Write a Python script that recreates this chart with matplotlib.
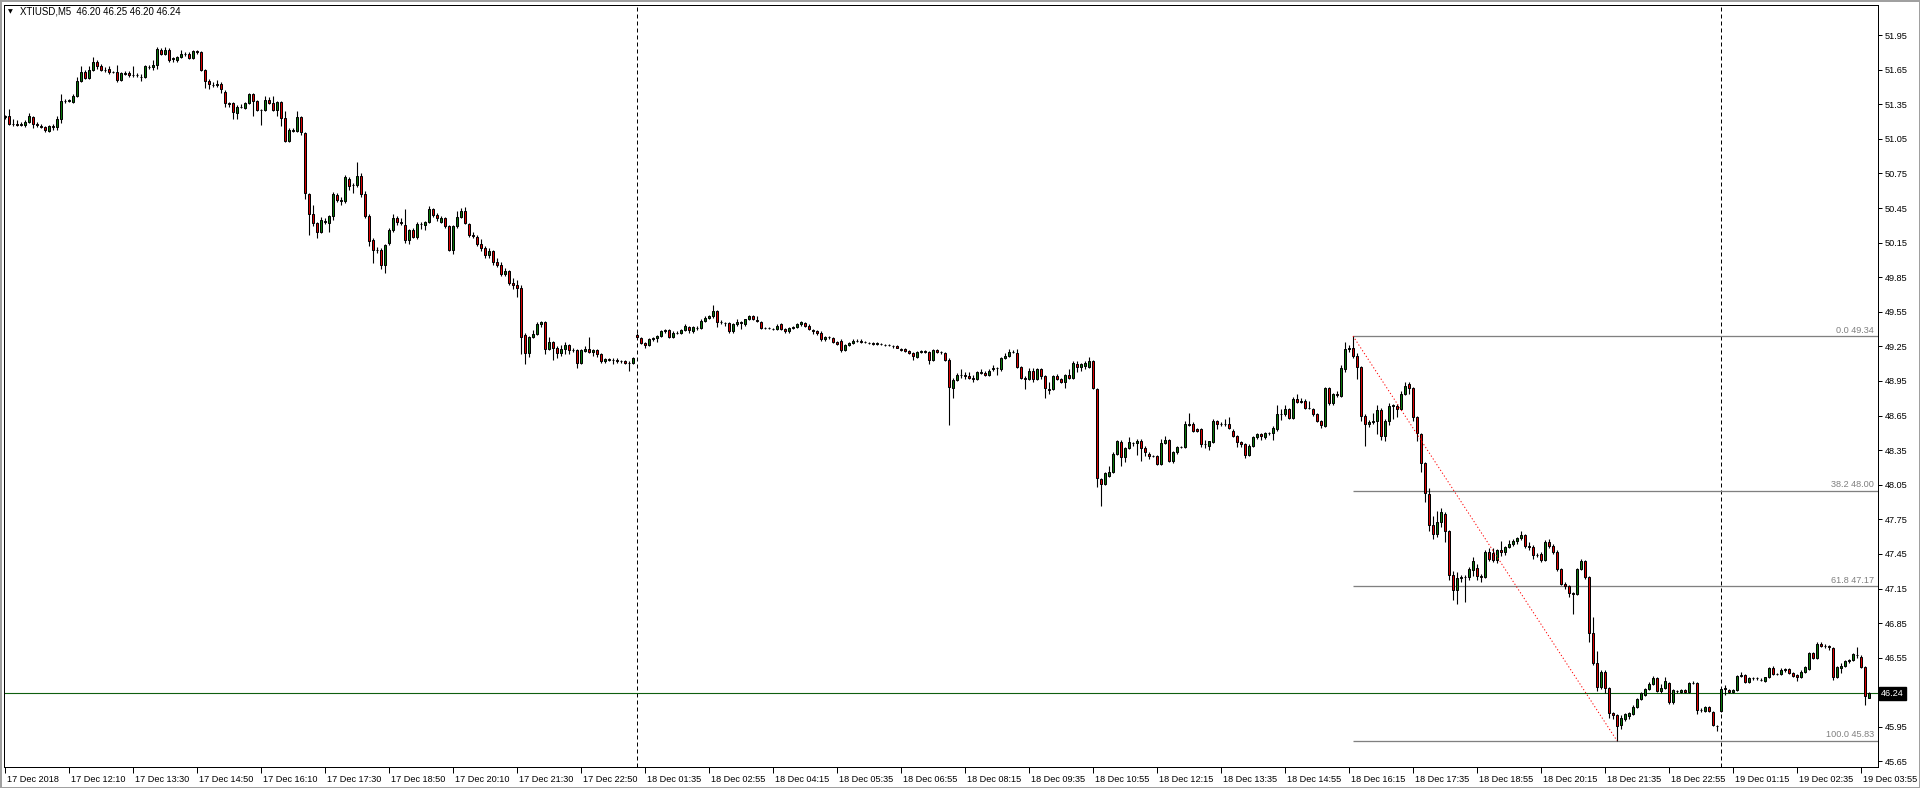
import matplotlib
matplotlib.use("Agg")
import matplotlib.pyplot as plt
import matplotlib.transforms as mtransforms
from matplotlib.patches import Rectangle
import numpy as np

plt.rcParams["font.family"] = ["Liberation Sans", "DejaVu Sans"]

# XTIUSD M5 bars (one value per bar)
opens = [
    51.24, 51.25, 51.18, 51.18, 51.17, 51.17, 51.20, 51.24, 51.18, 51.16,
    51.15, 51.12, 51.16, 51.15, 51.22, 51.38, 51.38, 51.37, 51.42, 51.55,
    51.63, 51.58, 51.65, 51.72, 51.68, 51.65, 51.66, 51.63, 51.63, 51.56,
    51.61, 51.62, 51.60, 51.60, 51.59, 51.59, 51.67, 51.67, 51.69, 51.82,
    51.79, 51.82, 51.74, 51.73, 51.76, 51.79, 51.79, 51.75, 51.81, 51.80,
    51.65, 51.55, 51.52, 51.52, 51.53, 51.46, 51.36, 51.36, 51.27, 51.33,
    51.32, 51.36, 51.44, 51.38, 51.30, 51.30, 51.39, 51.36, 51.30, 51.37,
    51.23, 51.03, 51.13, 51.12, 51.24, 51.10, 50.57, 50.40, 50.32, 50.24,
    50.34, 50.32, 50.38, 50.56, 50.51, 50.51, 50.70, 50.65, 50.65, 50.73,
    50.57, 50.38, 50.17, 50.09, 50.09, 49.96, 50.15, 50.26, 50.36, 50.33,
    50.30, 50.17, 50.26, 50.20, 50.31, 50.30, 50.33, 50.44, 50.39, 50.33,
    50.36, 50.29, 50.09, 50.29, 50.37, 50.42, 50.31, 50.22, 50.20, 50.14,
    50.10, 50.04, 50.08, 49.98, 49.96, 49.88, 49.90, 49.80, 49.78, 49.76,
    49.35, 49.19, 49.33, 49.36, 49.44, 49.46, 49.23, 49.29, 49.24, 49.19,
    49.23, 49.26, 49.22, 49.22, 49.11, 49.21, 49.23, 49.20, 49.22, 49.18,
    49.12, 49.14, 49.13, 49.13, 49.12, 49.12, 49.11, 49.11, 49.35, 49.32,
    49.28, 49.26, 49.31, 49.32, 49.34, 49.38, 49.39, 49.33, 49.37, 49.37,
    49.39, 49.42, 49.38, 49.41, 49.41, 49.47, 49.50, 49.51, 49.56, 49.46,
    49.45, 49.45, 49.38, 49.44, 49.46, 49.44, 49.49, 49.51, 49.48, 49.46,
    49.41, 49.41, 49.40, 49.40, 49.44, 49.40, 49.38, 49.41, 49.42, 49.44,
    49.45, 49.43, 49.39, 49.38, 49.37, 49.31, 49.33, 49.32, 49.29, 49.30,
    49.22, 49.26, 49.28, 49.30, 49.30, 49.29, 49.28, 49.28, 49.27, 49.27,
    49.26, 49.26, 49.25, 49.25, 49.23, 49.23, 49.21, 49.19, 49.16, 49.20,
    49.21, 49.20, 49.13, 49.22, 49.20, 49.19, 49.13, 48.89, 48.96, 49.00,
    49.00, 48.99, 48.98, 48.97, 49.03, 49.02, 49.00, 49.05, 49.06, 49.05,
    49.15, 49.17, 49.20, 49.19, 49.07, 48.98, 48.97, 49.04, 48.97, 49.05,
    48.99, 48.88, 48.88, 48.99, 48.97, 48.94, 49.00, 48.98, 49.10, 49.07,
    49.08, 49.07, 49.12, 48.88, 48.10, 48.06, 48.13, 48.16, 48.32, 48.42,
    48.29, 48.37, 48.41, 48.41, 48.43, 48.37, 48.32, 48.30, 48.30, 48.23,
    48.41, 48.44, 48.26, 48.33, 48.38, 48.38, 48.58, 48.58, 48.53, 48.53,
    48.40, 48.39, 48.42, 48.60, 48.58, 48.58, 48.58, 48.52, 48.47, 48.42,
    48.40, 48.31, 48.39, 48.46, 48.49, 48.46, 48.50, 48.50, 48.53, 48.66,
    48.66, 48.71, 48.63, 48.79, 48.78, 48.78, 48.72, 48.71, 48.66, 48.60,
    48.56, 48.89, 48.76, 48.84, 48.82, 49.05, 49.23, 49.24, 49.17, 49.07,
    48.65, 48.58, 48.59, 48.60, 48.70, 48.47, 48.60, 48.73, 48.73, 48.71,
    48.84, 48.92, 48.89, 48.64, 48.49, 48.24, 47.97, 47.70, 47.62, 47.73,
    47.80, 47.65, 47.27, 47.14, 47.24, 47.25, 47.25, 47.31, 47.33, 47.26,
    47.25, 47.47, 47.46, 47.40, 47.48, 47.47, 47.51, 47.54, 47.56, 47.59,
    47.61, 47.52, 47.51, 47.44, 47.45, 47.40, 47.55, 47.52, 47.47, 47.32,
    47.19, 47.17, 47.11, 47.10, 47.32, 47.39, 47.25, 46.76, 46.50, 46.30,
    46.43, 46.29, 46.07, 46.05, 45.97, 46.02, 46.04, 46.06, 46.12, 46.19,
    46.23, 46.28, 46.32, 46.37, 46.26, 46.29, 46.33, 46.17, 46.26, 46.25,
    46.27, 46.25, 46.33, 46.33, 46.10, 46.09, 46.12, 46.08, 45.96, 46.09,
    46.28, 46.27, 46.25, 46.27, 46.39, 46.40, 46.34, 46.37, 46.37, 46.36,
    46.35, 46.38, 46.46, 46.41, 46.41, 46.44, 46.45, 46.42, 46.40, 46.38,
    46.43, 46.45, 46.59, 46.55, 46.67, 46.65, 46.65, 46.63, 46.38, 46.46,
    46.48, 46.52, 46.53, 46.57, 46.56, 46.47, 46.20,
]
highs = [
    51.26, 51.31, 51.22, 51.21, 51.20, 51.21, 51.27, 51.25, 51.20, 51.18,
    51.16, 51.17, 51.18, 51.25, 51.44, 51.40, 51.40, 51.44, 51.59, 51.68,
    51.65, 51.68, 51.76, 51.73, 51.70, 51.67, 51.68, 51.64, 51.69, 51.63,
    51.64, 51.64, 51.68, 51.62, 51.61, 51.69, 51.69, 51.73, 51.85, 51.84,
    51.85, 51.84, 51.76, 51.77, 51.82, 51.80, 51.80, 51.82, 51.82, 51.81,
    51.66, 51.57, 51.54, 51.56, 51.54, 51.47, 51.37, 51.37, 51.34, 51.35,
    51.37, 51.45, 51.45, 51.39, 51.31, 51.42, 51.41, 51.42, 51.38, 51.38,
    51.29, 51.14, 51.14, 51.29, 51.25, 51.11, 50.58, 50.48, 50.33, 50.37,
    50.36, 50.39, 50.59, 50.58, 50.55, 50.74, 50.72, 50.67, 50.85, 50.75,
    50.60, 50.40, 50.19, 50.11, 50.10, 50.14, 50.28, 50.40, 50.38, 50.36,
    50.44, 50.27, 50.28, 50.33, 50.33, 50.34, 50.47, 50.45, 50.41, 50.38,
    50.37, 50.30, 50.30, 50.42, 50.45, 50.46, 50.32, 50.24, 50.22, 50.18,
    50.12, 50.10, 50.09, 50.02, 49.98, 49.93, 49.91, 49.84, 49.83, 49.78,
    49.37, 49.34, 49.39, 49.46, 49.47, 49.47, 49.33, 49.30, 49.25, 49.26,
    49.29, 49.27, 49.24, 49.23, 49.23, 49.25, 49.33, 49.23, 49.23, 49.19,
    49.15, 49.15, 49.15, 49.15, 49.13, 49.13, 49.12, 49.16, 49.37, 49.33,
    49.29, 49.32, 49.33, 49.35, 49.39, 49.40, 49.40, 49.38, 49.38, 49.40,
    49.44, 49.43, 49.43, 49.43, 49.49, 49.51, 49.52, 49.61, 49.57, 49.48,
    49.46, 49.46, 49.45, 49.49, 49.47, 49.49, 49.52, 49.52, 49.51, 49.47,
    49.42, 49.42, 49.41, 49.44, 49.45, 49.41, 49.42, 49.43, 49.45, 49.47,
    49.46, 49.44, 49.40, 49.39, 49.38, 49.34, 49.34, 49.33, 49.30, 49.31,
    49.27, 49.29, 49.31, 49.31, 49.31, 49.30, 49.29, 49.29, 49.29, 49.28,
    49.27, 49.27, 49.26, 49.26, 49.24, 49.24, 49.22, 49.20, 49.21, 49.22,
    49.22, 49.21, 49.23, 49.23, 49.21, 49.20, 49.15, 48.98, 49.02, 49.05,
    49.03, 49.03, 49.00, 49.04, 49.05, 49.04, 49.05, 49.09, 49.07, 49.16,
    49.19, 49.23, 49.22, 49.23, 49.08, 48.99, 49.06, 49.06, 49.06, 49.06,
    49.00, 48.94, 49.00, 49.01, 48.98, 49.01, 49.05, 49.12, 49.12, 49.11,
    49.12, 49.16, 49.13, 48.89, 48.11, 48.16, 48.21, 48.33, 48.44, 48.44,
    48.38, 48.46, 48.42, 48.45, 48.45, 48.39, 48.33, 48.31, 48.31, 48.45,
    48.47, 48.45, 48.34, 48.39, 48.39, 48.60, 48.67, 48.59, 48.54, 48.54,
    48.44, 48.43, 48.62, 48.61, 48.59, 48.62, 48.64, 48.53, 48.48, 48.43,
    48.41, 48.40, 48.47, 48.50, 48.50, 48.51, 48.51, 48.56, 48.74, 48.71,
    48.74, 48.72, 48.81, 48.84, 48.80, 48.79, 48.78, 48.72, 48.67, 48.61,
    48.90, 48.90, 48.85, 48.86, 49.09, 49.29, 49.26, 49.34, 49.19, 49.08,
    48.66, 48.61, 48.67, 48.74, 48.72, 48.62, 48.76, 48.75, 48.75, 48.86,
    48.94, 48.94, 48.90, 48.65, 48.50, 48.25, 48.02, 47.78, 47.82, 47.85,
    47.81, 47.66, 47.30, 47.29, 47.27, 47.27, 47.34, 47.42, 47.36, 47.28,
    47.48, 47.50, 47.50, 47.49, 47.56, 47.52, 47.57, 47.58, 47.60, 47.65,
    47.62, 47.55, 47.53, 47.46, 47.47, 47.57, 47.58, 47.54, 47.48, 47.33,
    47.21, 47.18, 47.12, 47.33, 47.41, 47.40, 47.26, 46.90, 46.61, 46.44,
    46.44, 46.30, 46.08, 46.06, 46.05, 46.07, 46.08, 46.14, 46.20, 46.25,
    46.29, 46.34, 46.39, 46.38, 46.32, 46.38, 46.34, 46.28, 46.27, 46.28,
    46.28, 46.34, 46.35, 46.34, 46.11, 46.13, 46.13, 46.09, 45.97, 46.29,
    46.31, 46.28, 46.28, 46.40, 46.43, 46.41, 46.38, 46.38, 46.38, 46.37,
    46.38, 46.47, 46.48, 46.42, 46.46, 46.46, 46.46, 46.43, 46.41, 46.44,
    46.48, 46.60, 46.60, 46.69, 46.69, 46.67, 46.66, 46.64, 46.48, 46.50,
    46.53, 46.54, 46.59, 46.64, 46.57, 46.48, 46.25,
]
lows = [
    51.22, 51.17, 51.16, 51.16, 51.16, 51.15, 51.19, 51.14, 51.15, 51.14,
    51.11, 51.11, 51.13, 51.13, 51.19, 51.36, 51.37, 51.36, 51.41, 51.54,
    51.57, 51.57, 51.64, 51.66, 51.64, 51.63, 51.61, 51.62, 51.54, 51.55,
    51.60, 51.59, 51.59, 51.59, 51.55, 51.58, 51.66, 51.65, 51.66, 51.78,
    51.78, 51.72, 51.72, 51.72, 51.75, 51.77, 51.74, 51.74, 51.79, 51.64,
    51.49, 51.48, 51.50, 51.50, 51.45, 51.33, 51.33, 51.22, 51.22, 51.32,
    51.31, 51.35, 51.25, 51.29, 51.17, 51.29, 51.35, 51.29, 51.25, 51.16,
    51.02, 51.02, 51.11, 51.11, 51.08, 50.53, 50.22, 50.29, 50.19, 50.23,
    50.31, 50.24, 50.35, 50.50, 50.48, 50.49, 50.61, 50.58, 50.63, 50.55,
    50.36, 50.12, 49.97, 50.06, 49.92, 49.89, 50.13, 50.24, 50.30, 50.30,
    50.15, 50.14, 50.19, 50.18, 50.27, 50.26, 50.32, 50.37, 50.34, 50.32,
    50.28, 50.08, 50.05, 50.28, 50.36, 50.31, 50.20, 50.19, 50.12, 50.08,
    50.02, 50.02, 49.96, 49.94, 49.86, 49.86, 49.78, 49.75, 49.68, 49.18,
    49.10, 49.16, 49.32, 49.35, 49.42, 49.18, 49.22, 49.13, 49.15, 49.17,
    49.18, 49.18, 49.20, 49.06, 49.10, 49.20, 49.19, 49.17, 49.16, 49.11,
    49.11, 49.12, 49.10, 49.11, 49.11, 49.10, 49.04, 49.10, 49.32, 49.27,
    49.24, 49.25, 49.30, 49.29, 49.33, 49.37, 49.32, 49.32, 49.36, 49.36,
    49.38, 49.37, 49.37, 49.39, 49.40, 49.46, 49.49, 49.50, 49.42, 49.44,
    49.43, 49.37, 49.37, 49.43, 49.40, 49.43, 49.48, 49.48, 49.46, 49.40,
    49.40, 49.40, 49.39, 49.39, 49.39, 49.37, 49.37, 49.40, 49.41, 49.43,
    49.42, 49.39, 49.36, 49.35, 49.30, 49.30, 49.31, 49.28, 49.26, 49.20,
    49.21, 49.25, 49.27, 49.29, 49.28, 49.28, 49.27, 49.26, 49.26, 49.26,
    49.25, 49.25, 49.24, 49.24, 49.21, 49.20, 49.18, 49.13, 49.15, 49.19,
    49.19, 49.10, 49.12, 49.19, 49.18, 49.12, 48.57, 48.80, 48.95, 48.98,
    48.97, 48.97, 48.94, 48.96, 49.01, 48.99, 48.99, 49.04, 49.00, 49.04,
    49.14, 49.16, 49.19, 49.06, 48.97, 48.88, 48.96, 48.94, 48.96, 48.97,
    48.80, 48.84, 48.87, 48.96, 48.93, 48.89, 48.97, 48.97, 49.03, 49.04,
    49.05, 49.06, 48.88, 48.03, 47.87, 48.05, 48.12, 48.15, 48.31, 48.21,
    48.25, 48.36, 48.39, 48.31, 48.26, 48.30, 48.27, 48.29, 48.22, 48.22,
    48.40, 48.25, 48.24, 48.32, 48.37, 48.37, 48.56, 48.51, 48.51, 48.38,
    48.37, 48.35, 48.41, 48.53, 48.56, 48.56, 48.53, 48.46, 48.38, 48.38,
    48.28, 48.30, 48.38, 48.45, 48.44, 48.45, 48.48, 48.44, 48.52, 48.61,
    48.65, 48.62, 48.62, 48.76, 48.76, 48.71, 48.71, 48.65, 48.59, 48.54,
    48.55, 48.74, 48.74, 48.81, 48.81, 49.03, 49.20, 49.15, 48.97, 48.60,
    48.39, 48.55, 48.58, 48.49, 48.44, 48.43, 48.57, 48.62, 48.64, 48.70,
    48.83, 48.84, 48.60, 48.43, 48.16, 47.90, 47.65, 47.58, 47.60, 47.68,
    47.55, 47.22, 47.05, 47.02, 47.21, 47.03, 47.22, 47.26, 47.22, 47.21,
    47.24, 47.39, 47.38, 47.37, 47.43, 47.44, 47.50, 47.52, 47.54, 47.57,
    47.50, 47.48, 47.41, 47.42, 47.38, 47.39, 47.50, 47.45, 47.30, 47.18,
    47.15, 47.08, 46.93, 47.09, 47.31, 47.23, 46.69, 46.49, 46.26, 46.28,
    46.24, 46.03, 46.02, 45.83, 45.93, 46.00, 46.02, 46.05, 46.11, 46.18,
    46.22, 46.27, 46.31, 46.25, 46.24, 46.28, 46.15, 46.15, 46.24, 46.24,
    46.24, 46.24, 46.32, 46.06, 46.08, 46.08, 46.08, 45.96, 45.91, 46.08,
    46.23, 46.24, 46.24, 46.26, 46.38, 46.33, 46.33, 46.36, 46.36, 46.35,
    46.34, 46.37, 46.40, 46.40, 46.40, 46.43, 46.41, 46.38, 46.35, 46.37,
    46.42, 46.44, 46.54, 46.54, 46.64, 46.63, 46.62, 46.36, 46.37, 46.42,
    46.47, 46.50, 46.52, 46.55, 46.46, 46.14, 46.20,
]
closes = [
    51.25, 51.18, 51.18, 51.17, 51.18, 51.20, 51.25, 51.18, 51.17, 51.15,
    51.13, 51.16, 51.15, 51.22, 51.38, 51.38, 51.39, 51.42, 51.55, 51.63,
    51.58, 51.65, 51.72, 51.68, 51.65, 51.65, 51.63, 51.63, 51.56, 51.62,
    51.62, 51.60, 51.60, 51.60, 51.59, 51.68, 51.67, 51.69, 51.83, 51.79,
    51.82, 51.73, 51.75, 51.76, 51.79, 51.79, 51.75, 51.81, 51.80, 51.65,
    51.55, 51.53, 51.52, 51.53, 51.48, 51.36, 51.35, 51.28, 51.33, 51.33,
    51.36, 51.44, 51.38, 51.30, 51.30, 51.39, 51.36, 51.30, 51.37, 51.23,
    51.03, 51.13, 51.12, 51.24, 51.11, 50.58, 50.40, 50.32, 50.24, 50.35,
    50.33, 50.38, 50.57, 50.52, 50.52, 50.72, 50.64, 50.65, 50.73, 50.57,
    50.38, 50.16, 50.09, 50.09, 49.96, 50.13, 50.26, 50.36, 50.33, 50.32,
    50.17, 50.26, 50.20, 50.31, 50.31, 50.33, 50.44, 50.39, 50.36, 50.36,
    50.29, 50.09, 50.29, 50.37, 50.42, 50.32, 50.22, 50.21, 50.14, 50.10,
    50.04, 50.08, 49.98, 49.96, 49.88, 49.90, 49.80, 49.78, 49.76, 49.33,
    49.19, 49.33, 49.36, 49.44, 49.46, 49.23, 49.29, 49.24, 49.19, 49.23,
    49.26, 49.22, 49.22, 49.11, 49.22, 49.23, 49.20, 49.22, 49.18, 49.12,
    49.14, 49.13, 49.13, 49.12, 49.12, 49.11, 49.11, 49.15, 49.33, 49.28,
    49.26, 49.31, 49.32, 49.34, 49.38, 49.39, 49.33, 49.37, 49.37, 49.39,
    49.43, 49.39, 49.42, 49.41, 49.47, 49.50, 49.51, 49.56, 49.46, 49.46,
    49.45, 49.38, 49.44, 49.46, 49.45, 49.49, 49.51, 49.49, 49.47, 49.41,
    49.41, 49.41, 49.40, 49.43, 49.40, 49.38, 49.41, 49.42, 49.44, 49.46,
    49.43, 49.40, 49.38, 49.37, 49.31, 49.33, 49.33, 49.29, 49.27, 49.22,
    49.26, 49.28, 49.30, 49.30, 49.29, 49.29, 49.28, 49.27, 49.28, 49.27,
    49.26, 49.26, 49.25, 49.24, 49.22, 49.21, 49.19, 49.17, 49.20, 49.21,
    49.20, 49.13, 49.22, 49.20, 49.20, 49.13, 48.90, 48.96, 49.00, 49.00,
    48.99, 48.98, 48.97, 49.03, 49.02, 49.00, 49.04, 49.06, 49.06, 49.15,
    49.17, 49.20, 49.20, 49.07, 48.98, 48.97, 49.04, 48.97, 49.05, 48.99,
    48.89, 48.87, 48.99, 48.97, 48.94, 49.00, 48.98, 49.11, 49.07, 49.10,
    49.11, 49.12, 48.89, 48.11, 48.06, 48.15, 48.16, 48.32, 48.43, 48.29,
    48.37, 48.42, 48.41, 48.43, 48.37, 48.33, 48.30, 48.30, 48.23, 48.41,
    48.44, 48.26, 48.33, 48.38, 48.38, 48.58, 48.57, 48.52, 48.52, 48.40,
    48.40, 48.43, 48.60, 48.58, 48.58, 48.58, 48.54, 48.47, 48.42, 48.40,
    48.31, 48.39, 48.46, 48.49, 48.47, 48.50, 48.50, 48.54, 48.66, 48.66,
    48.71, 48.63, 48.79, 48.77, 48.77, 48.72, 48.72, 48.66, 48.60, 48.57,
    48.89, 48.76, 48.84, 48.83, 49.06, 49.23, 49.24, 49.17, 49.07, 48.65,
    48.58, 48.59, 48.60, 48.70, 48.47, 48.60, 48.73, 48.74, 48.71, 48.84,
    48.91, 48.89, 48.64, 48.50, 48.24, 47.98, 47.70, 47.62, 47.73, 47.81,
    47.65, 47.27, 47.14, 47.24, 47.25, 47.25, 47.32, 47.39, 47.26, 47.25,
    47.47, 47.41, 47.40, 47.48, 47.47, 47.51, 47.54, 47.56, 47.59, 47.61,
    47.52, 47.51, 47.44, 47.44, 47.40, 47.55, 47.52, 47.47, 47.32, 47.19,
    47.17, 47.11, 47.10, 47.32, 47.39, 47.25, 46.76, 46.50, 46.30, 46.43,
    46.29, 46.07, 46.05, 45.96, 46.03, 46.06, 46.07, 46.12, 46.19, 46.24,
    46.28, 46.32, 46.37, 46.26, 46.29, 46.35, 46.17, 46.27, 46.26, 46.27,
    46.25, 46.33, 46.33, 46.10, 46.10, 46.12, 46.09, 45.97, 45.96, 46.28,
    46.29, 46.25, 46.27, 46.39, 46.40, 46.34, 46.37, 46.37, 46.37, 46.36,
    46.38, 46.46, 46.41, 46.41, 46.44, 46.45, 46.42, 46.39, 46.38, 46.43,
    46.47, 46.59, 46.55, 46.67, 46.65, 46.65, 46.64, 46.38, 46.47, 46.48,
    46.52, 46.53, 46.58, 46.57, 46.47, 46.22, 46.24,
]

time_labels = [
    "17 Dec 2018", "17 Dec 12:10", "17 Dec 13:30", "17 Dec 14:50", "17 Dec 16:10",
    "17 Dec 17:30", "17 Dec 18:50", "17 Dec 20:10", "17 Dec 21:30", "17 Dec 22:50",
    "18 Dec 01:35", "18 Dec 02:55", "18 Dec 04:15", "18 Dec 05:35", "18 Dec 06:55",
    "18 Dec 08:15", "18 Dec 09:35", "18 Dec 10:55", "18 Dec 12:15", "18 Dec 13:35",
    "18 Dec 14:55", "18 Dec 16:15", "18 Dec 17:35", "18 Dec 18:55", "18 Dec 20:15",
    "18 Dec 21:35", "18 Dec 22:55", "19 Dec 01:15", "19 Dec 02:35", "19 Dec 03:55",
]
label_step = 16                      # one time label every 16 bars
day_breaks = [158, 429]              # first bar of 18 Dec and 19 Dec
price_ticks = [round(45.65 + 0.30 * k, 2) for k in range(22)]

fib_start, fib_end = 337, 403        # bars of the swing high / swing low
fib_levels = [0.0, 38.2, 61.8, 100.0]
fib_prices = [49.34, 48.00, 47.17, 45.83]
bid = 46.24
title = "XTIUSD,M5  46.20 46.25 46.20 46.24"

assert len(opens) == len(highs) == len(lows) == len(closes)

BULL = "#0a760a"
BEAR = "#d90000"
FIB_GREY = "#808080"
BID_GREEN = "#0f5f0f"
PX = 0.72  # one pixel in points at dpi=100
FS = 6.6

W, H = 1920, 788
fig = plt.figure(figsize=(W / 100, H / 100), dpi=100, facecolor="white")
ax = fig.add_axes([4 / W, (H - 767) / H, 1874 / W, 762 / H])

o = np.array(opens)
h = np.array(highs)
l = np.array(lows)
c = np.array(closes)
x = np.arange(len(c))

# wicks, then bodies with black outline (MT4 style)
ax.vlines(x, l, h, color="black", linewidth=1.1 * PX, zorder=3)
body_col = np.where(c > o, BULL, np.where(c < o, BEAR, "black"))
ax.bar(x, np.abs(c - o), bottom=np.minimum(o, c), width=0.58, color=body_col,
       edgecolor="black", linewidth=1.0 * PX, zorder=4)

xmax = (1878 - 5) / 4
ax.set_xlim((4 - 5) / 4, xmax)
ax.set_ylim(45.602, 52.211)

# period separators
for b in day_breaks:
    ax.axvline(b, color="black", linewidth=1.0 * PX, linestyle=(0, (4, 3)), zorder=2)

# fibonacci retracement
ax.hlines(fib_prices, fib_start, xmax, color=FIB_GREY, linewidth=1.3 * PX, zorder=2)
ax.plot([fib_start, fib_end], [fib_prices[0], fib_prices[-1]], color="red",
        linewidth=1.0 * PX, linestyle=(0, (1.2, 2.2)), zorder=5)
for lvl, p in zip(fib_levels, fib_prices):
    ax.text(xmax - 1.0, p + 0.012, f"{lvl:.1f} {p:.2f}", color=FIB_GREY, fontsize=FS,
            ha="right", va="bottom", zorder=6)

# bid line
ax.axhline(bid, color=BID_GREEN, linewidth=1.1 * PX, zorder=2)

# axes styling
for s in ax.spines.values():
    s.set_color("black")
    s.set_linewidth(1.0 * PX)
ax.yaxis.tick_right()
ax.set_yticks(price_ticks)
ax.set_yticklabels(["" if abs(p - 46.25) < 1e-6 else f"{p:.2f}" for p in price_ticks])
ax.tick_params(axis="y", length=3, width=PX, pad=2, labelsize=FS)
ax.set_xticks(np.arange(len(time_labels)) * label_step)
ax.set_xticklabels(time_labels, ha="left")
ax.tick_params(axis="x", length=4, width=PX, pad=1.5, labelsize=FS)
for t in ax.get_xticklabels():
    t.set_transform(t.get_transform() + mtransforms.ScaledTranslation(2 / 100, 0, fig.dpi_scale_trans))

trans = mtransforms.blended_transform_factory(ax.transAxes, ax.transData)
ax.text(1.0 + 3 / 1874, bid, f"{bid:.2f}", transform=trans, color="white", fontsize=FS,
        ha="left", va="center", clip_on=False, zorder=10,
        bbox=dict(boxstyle="square,pad=0.25", facecolor="black", edgecolor="black"))

# chart header
ax.text(4 / 1874, 1 - 7 / 762, "\u25bc", transform=ax.transAxes, fontsize=4.5,
        family=["DejaVu Sans"], ha="left", va="center", zorder=10)
ax.text(16 / 1874, 1 - 7 / 762, title, transform=ax.transAxes, fontsize=6.9,
        ha="left", va="center", zorder=10)

# window frame of the terminal screenshot
fig.add_artist(Rectangle((0, 0), 1, 1, transform=fig.transFigure, fill=False,
                         edgecolor="#a0a0a0", linewidth=3 * PX))

fig.savefig("out.png", dpi=100, facecolor="white")
